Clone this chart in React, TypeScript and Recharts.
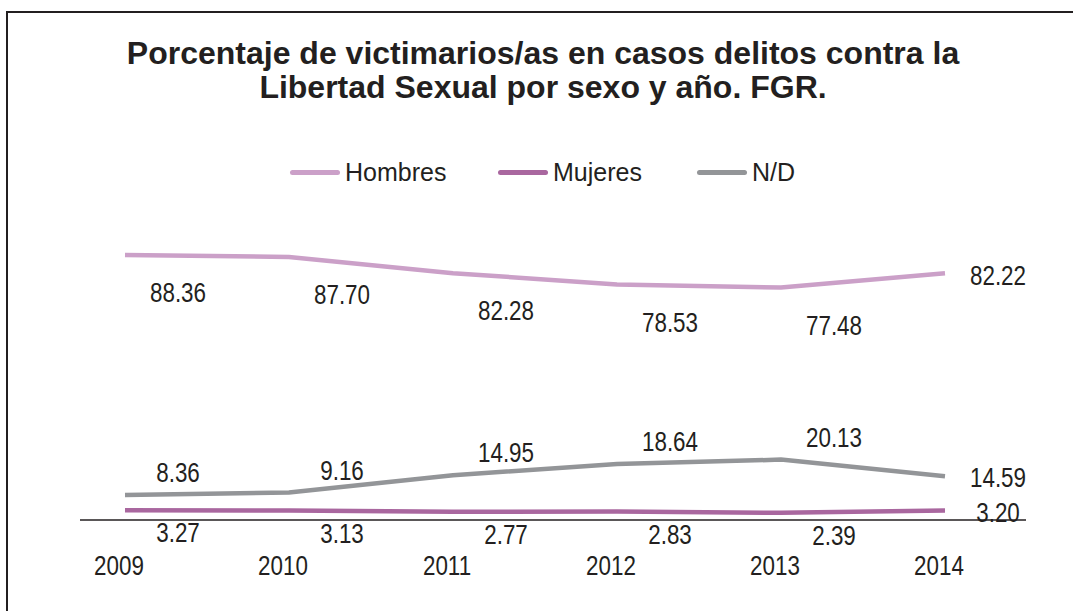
import React from 'react';
import { LineChart, Line, XAxis, YAxis, Legend, LabelList } from 'recharts';

// years and series values (percent)
const years = ['2009', '2010', '2011', '2012', '2013', '2014'];
const hombres = [88.36, 87.7, 82.28, 78.53, 77.48, 82.22];
const mujeres = [3.27, 3.13, 2.77, 2.83, 2.39, 3.2];
const noData = [8.36, 9.16, 14.95, 18.64, 20.13, 14.59];

const data = years.map((year, i) => ({
  year,
  hombres: hombres[i],
  mujeres: mujeres[i],
  nd: noData[i],
}));

const TEXT = '#231f20';
const SANS = '"Liberation Sans", Arial, Helvetica, sans-serif';
const SQUEEZE = 0.83; // the reference numbers are set in a condensed face

const series = [
  { key: 'hombres', name: 'Hombres', color: '#cba0c8', dy: 38 },
  { key: 'mujeres', name: 'Mujeres', color: '#a9679f', dy: 23 },
  { key: 'nd', name: 'N/D', color: '#939598', dy: -22 },
];

const NarrowText = ({ x, y, children }: { x: number; y: number; children: React.ReactNode }) => (
  <text
    transform={`translate(${x},${y}) scale(${SQUEEZE},1)`}
    textAnchor="middle"
    dominantBaseline="central"
    fontSize={27}
    fontFamily={SANS}
    fill={TEXT}
  >
    {children}
  </text>
);

// label sits to the right of the point; the last one is level with its point
const makeLabel = (dy: number) => (props: any) => {
  const { x, y, value, index } = props;
  const last = index === years.length - 1;
  return (
    <NarrowText x={x + 53} y={last ? y + 2 : y + dy}>
      {Number(value).toFixed(2)}
    </NarrowText>
  );
};

const YearTick = (props: any) => {
  const { x, y, payload } = props;
  return <NarrowText x={x - 6} y={y + 38}>{payload.value}</NarrowText>;
};

const LegendBox = () => (
  <div style={{ display: 'flex', alignItems: 'center', fontFamily: SANS, fontSize: 25, color: TEXT }}>
    {series.map((s, i) => (
      <div key={s.key} style={{ display: 'flex', alignItems: 'center', width: i === 0 ? 208 : i === 1 ? 199 : 'auto' }}>
        <span style={{ display: 'inline-block', width: 50, height: 5, borderRadius: 3, background: s.color, marginRight: 5 }} />
        <span>{s.name}</span>
      </div>
    ))}
  </div>
);

export default function App() {
  return (
    <div style={{ position: 'fixed', left: 0, top: 0, width: 1073, height: 611, overflow: 'hidden', background: '#fff' }}>
      <div
        style={{
          position: 'absolute', left: 6, top: 11, width: 2000, height: 2000,
          borderTop: `2px solid ${TEXT}`, borderLeft: `2px solid ${TEXT}`,
        }}
      />
      <div
        style={{
          position: 'absolute', left: 0, width: 1086, top: 36, textAlign: 'center',
          fontFamily: SANS, fontWeight: 'bold', fontSize: 32, lineHeight: '34px', color: TEXT,
        }}
      >
        Porcentaje de victimarios/as en casos delitos contra la
        <br />
        Libertad Sexual por sexo y año. FGR.
      </div>
      <div style={{ position: 'absolute', left: 0, top: 0 }}>
        <LineChart width={1073} height={611} data={data} margin={{ top: 220, right: 47, bottom: 31, left: 80 }}>
          <XAxis
            dataKey="year"
            height={60}
            padding={{ left: 45, right: 81 }}
            axisLine={{ stroke: TEXT, strokeWidth: 1.5 }}
            tickLine={false}
            tick={<YearTick />}
            interval={0}
          />
          <YAxis hide domain={[0, 100]} />
          <Legend
            verticalAlign="middle"
            align="center"
            layout="horizontal"
            wrapperStyle={{ top: 158, left: 290, width: 'auto' }}
            content={<LegendBox />}
          />
          {series.map((s) => (
            <Line
              key={s.key}
              type="linear"
              dataKey={s.key}
              name={s.name}
              stroke={s.color}
              strokeWidth={4.5}
              dot={false}
              isAnimationActive={false}
            >
              <LabelList dataKey={s.key} content={makeLabel(s.dy)} />
            </Line>
          ))}
        </LineChart>
      </div>
    </div>
  );
}
